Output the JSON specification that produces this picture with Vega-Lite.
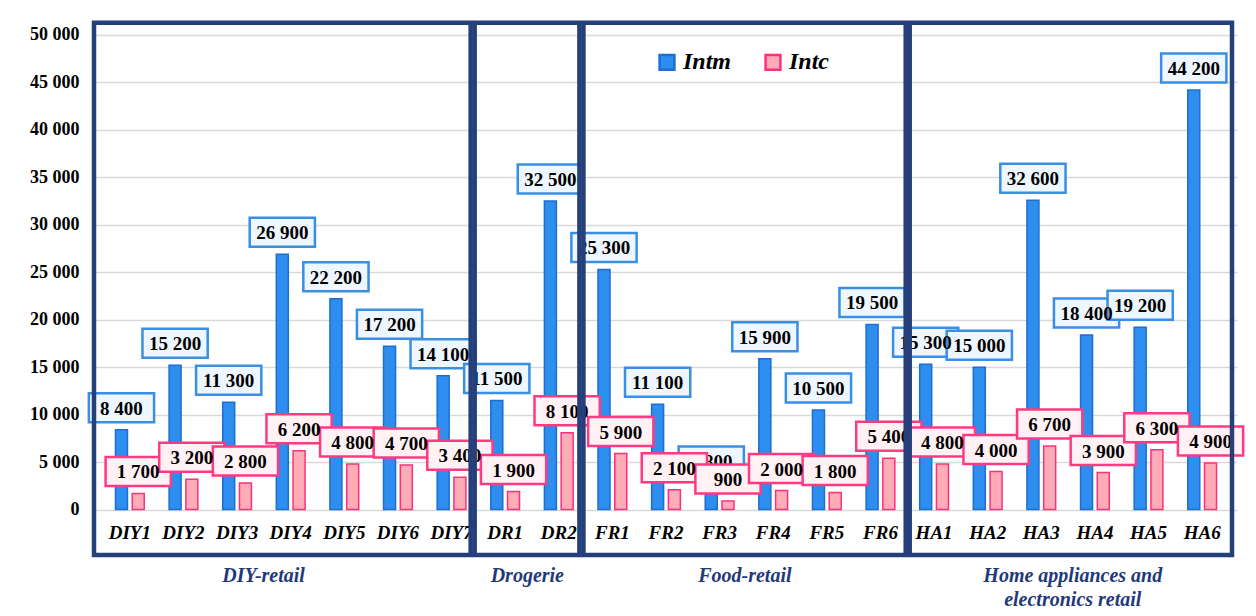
{
  "$schema": "https://vega.github.io/schema/vega-lite/v6.json",
  "autosize": {"type": "none"},
  "width": 1142,
  "height": 598,
  "padding": {"left": 95, "top": 16, "right": 19, "bottom": 2},
  "background": "white",
  "config": {
    "locale": {"number": {"decimal": ".", "thousands": " ", "grouping": [3], "currency": ["", ""]}},
    "view": {"stroke": null},
    "font": "Liberation Serif, DejaVu Serif, serif"
  },
  "datasets": {
    "vals": [
      {"cat": "DIY1", "series": "Intm", "value": 8400}, {"cat": "DIY1", "series": "Intc", "value": 1700},
      {"cat": "DIY2", "series": "Intm", "value": 15200}, {"cat": "DIY2", "series": "Intc", "value": 3200},
      {"cat": "DIY3", "series": "Intm", "value": 11300}, {"cat": "DIY3", "series": "Intc", "value": 2800},
      {"cat": "DIY4", "series": "Intm", "value": 26900}, {"cat": "DIY4", "series": "Intc", "value": 6200},
      {"cat": "DIY5", "series": "Intm", "value": 22200}, {"cat": "DIY5", "series": "Intc", "value": 4800},
      {"cat": "DIY6", "series": "Intm", "value": 17200}, {"cat": "DIY6", "series": "Intc", "value": 4700},
      {"cat": "DIY7", "series": "Intm", "value": 14100}, {"cat": "DIY7", "series": "Intc", "value": 3400},
      {"cat": "DR1", "series": "Intm", "value": 11500}, {"cat": "DR1", "series": "Intc", "value": 1900},
      {"cat": "DR2", "series": "Intm", "value": 32500}, {"cat": "DR2", "series": "Intc", "value": 8100},
      {"cat": "FR1", "series": "Intm", "value": 25300}, {"cat": "FR1", "series": "Intc", "value": 5900},
      {"cat": "FR2", "series": "Intm", "value": 11100}, {"cat": "FR2", "series": "Intc", "value": 2100},
      {"cat": "FR3", "series": "Intm", "value": 2800}, {"cat": "FR3", "series": "Intc", "value": 900},
      {"cat": "FR4", "series": "Intm", "value": 15900}, {"cat": "FR4", "series": "Intc", "value": 2000},
      {"cat": "FR5", "series": "Intm", "value": 10500}, {"cat": "FR5", "series": "Intc", "value": 1800},
      {"cat": "FR6", "series": "Intm", "value": 19500}, {"cat": "FR6", "series": "Intc", "value": 5400},
      {"cat": "HA1", "series": "Intm", "value": 15300}, {"cat": "HA1", "series": "Intc", "value": 4800},
      {"cat": "HA2", "series": "Intm", "value": 15000}, {"cat": "HA2", "series": "Intc", "value": 4000},
      {"cat": "HA3", "series": "Intm", "value": 32600}, {"cat": "HA3", "series": "Intc", "value": 6700},
      {"cat": "HA4", "series": "Intm", "value": 18400}, {"cat": "HA4", "series": "Intc", "value": 3900},
      {"cat": "HA5", "series": "Intm", "value": 19200}, {"cat": "HA5", "series": "Intc", "value": 6300},
      {"cat": "HA6", "series": "Intm", "value": 44200}, {"cat": "HA6", "series": "Intc", "value": 4900}
    ],
    "sectors": [
      {"sector": "DIY-retail", "start": 0, "end": 7, "mid": 3.1},
      {"sector": "Drogerie", "start": 7, "end": 9, "mid": 7.95},
      {"sector": "Food-retail", "start": 9, "end": 15, "mid": 11.95},
      {"sector": "Home appliances and\nelectronics retail", "start": 15, "end": 21, "mid": 17.98}
    ]
  },
  "resolve": {"scale": {"x": "independent"}},
  "layer": [
    {
      "data": {"name": "vals"},
      "encoding": {
        "x": {"field": "cat", "type": "nominal", "sort": null, "axis": null, "scale": {"paddingInner": 0.1}},
        "y": {
          "field": "value", "type": "quantitative",
          "scale": {"domain": [-11000, 52000], "nice": false, "zero": false},
          "axis": {
            "title": null, "values": [0, 5000, 10000, 15000, 20000, 25000, 30000, 35000, 40000, 45000, 50000],
            "format": ",d", "domain": false, "ticks": false, "grid": true, "gridColor": "#d9d9d9", "gridWidth": 1.5,
            "labelFont": "Liberation Serif, DejaVu Serif, serif", "labelFontSize": 18, "labelFontWeight": "bold", "labelColor": "#000000",
            "labelPadding": 16
          }
        }
      },
      "layer": [
        {
          "mark": {"type": "bar", "width": 12, "strokeWidth": 1.5},
          "encoding": {
            "xOffset": {"field": "series", "type": "nominal", "scale": {"domain": ["Intm", "Intc"], "paddingInner": 0, "paddingOuter": 0.44}},
            "fill": {
              "field": "series", "type": "nominal",
              "scale": {"domain": ["Intm", "Intc"], "range": ["#2e8ef0", "#ffacb6"]},
              "legend": {
                "orient": "none", "legendX": 560, "legendY": 34, "direction": "horizontal", "title": null,
                "symbolType": "square", "symbolSize": 220, "symbolStrokeWidth": 2.5,
                "labelFont": "Liberation Serif, DejaVu Serif, serif", "labelFontSize": 24, "labelFontStyle": "italic", "labelFontWeight": "bold",
                "labelColor": "#000000", "columnPadding": 28, "labelOffset": 4, "padding": 0
              }
            },
            "stroke": {
              "field": "series", "type": "nominal",
              "scale": {"domain": ["Intm", "Intc"], "range": ["#1c6fd0", "#ff2f7c"]},
              "legend": {
                "orient": "none", "legendX": 560, "legendY": 34, "direction": "horizontal", "title": null,
                "symbolType": "square", "symbolSize": 220, "symbolStrokeWidth": 2.5,
                "labelFont": "Liberation Serif, DejaVu Serif, serif", "labelFontSize": 24, "labelFontStyle": "italic", "labelFontWeight": "bold",
                "labelColor": "#000000", "columnPadding": 28, "labelOffset": 4, "padding": 0
              }
            }
          }
        },
        {
          "transform": [{"filter": "datum.series === 'Intm'"}],
          "mark": {"type": "point", "shape": "M-2.25,-1H2.25V1H-2.25Z", "size": 841, "filled": true, "fill": "#eef7ff", "stroke": "#3a8fe2", "strokeWidth": 2.5, "opacity": 1, "yOffset": -22},
          "encoding": {"xOffset": {"field": "series", "type": "nominal"}}
        },
        {
          "transform": [{"filter": "datum.series === 'Intm'"}],
          "mark": {"type": "text", "font": "Liberation Serif, DejaVu Serif, serif", "fontSize": 19, "fontWeight": "bold", "color": "#000000", "baseline": "middle", "yOffset": -21},
          "encoding": {"xOffset": {"field": "series", "type": "nominal"}, "text": {"field": "value", "type": "quantitative", "format": ",d"}}
        },
        {
          "transform": [{"filter": "datum.series === 'Intc'"}],
          "mark": {"type": "point", "shape": "M-2.25,-1H2.25V1H-2.25Z", "size": 841, "filled": true, "fill": "#fff1f4", "stroke": "#ff3a82", "strokeWidth": 2.5, "opacity": 1, "yOffset": -22},
          "encoding": {"xOffset": {"field": "series", "type": "nominal"}}
        },
        {
          "transform": [{"filter": "datum.series === 'Intc'"}],
          "mark": {"type": "text", "font": "Liberation Serif, DejaVu Serif, serif", "fontSize": 19, "fontWeight": "bold", "color": "#000000", "baseline": "middle", "yOffset": -21},
          "encoding": {"xOffset": {"field": "series", "type": "nominal"}, "text": {"field": "value", "type": "quantitative", "format": ",d"}}
        },
        {
          "transform": [{"filter": "datum.series === 'Intm'"}],
          "mark": {"type": "text", "font": "Liberation Serif, DejaVu Serif, serif", "fontSize": 19, "fontWeight": "bold", "fontStyle": "italic", "color": "#000000", "baseline": "middle"},
          "encoding": {"y": {"datum": -2500}, "text": {"field": "cat", "type": "nominal"}}
        }
      ]
    },
    {
      "data": {"name": "sectors"},
      "mark": {"type": "rect", "fillOpacity": 0, "fill": "white", "stroke": "#253f7b", "strokeWidth": 4.5, "xOffset": -1, "x2Offset": -5},
      "encoding": {
        "x": {"field": "start", "type": "quantitative", "scale": {"domain": [0, 21], "nice": false, "zero": false}, "axis": null},
        "x2": {"field": "end"},
        "y": {"datum": 51300},
        "y2": {"datum": -4780}
      }
    },
    {
      "data": {"name": "sectors"},
      "mark": {"type": "text", "font": "Liberation Serif, DejaVu Serif, serif", "fontSize": 20, "fontWeight": "bold", "fontStyle": "italic", "color": "#1f3a78", "baseline": "middle", "lineBreak": "\n", "lineHeight": 24},
      "encoding": {
        "x": {"field": "mid", "type": "quantitative", "scale": {"domain": [0, 21], "nice": false, "zero": false}, "axis": null},
        "y": {"datum": -7000},
        "text": {"field": "sector", "type": "nominal"}
      }
    }
  ]
}
